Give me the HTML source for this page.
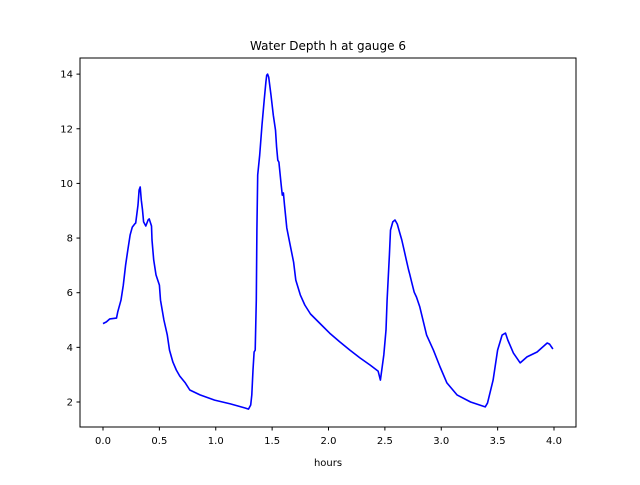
<!DOCTYPE html>
<html><head><meta charset="utf-8"><style>
body{margin:0;background:#fff;font-family:"Liberation Sans","DejaVu Sans",sans-serif}
svg text{font-family:"DejaVu Sans","Liberation Sans",sans-serif;font-size:10px;fill:#000}
</style></head><body>
<svg id="chart" width="640" height="480" viewBox="0 0 640 480">
<rect width="640" height="480" fill="#fff"/>
<text x="328" y="50" text-anchor="middle" style="font-size:12px">Water Depth h at gauge 6</text>
<g id="plot"></g>
<rect x="80" y="58" width="496" height="369" fill="none" stroke="#000" stroke-width="1"/>
<text x="328" y="466" text-anchor="middle">hours</text>
</svg>
<script>
const hours=[0,0.03,0.06,0.12,0.13,0.16,0.18,0.20,0.22,0.24,0.26,0.28,0.29,0.31,0.32,0.33,0.34,0.35,0.36,0.38,0.40,0.41,0.43,0.435,0.45,0.47,0.50,0.51,0.54,0.57,0.59,0.62,0.65,0.68,0.73,0.77,0.86,0.99,1.13,1.26,1.29,1.31,1.32,1.33,1.34,1.35,1.36,1.365,1.372,1.39,1.41,1.43,1.445,1.452,1.46,1.47,1.49,1.51,1.53,1.54,1.55,1.56,1.58,1.59,1.60,1.61,1.63,1.66,1.69,1.71,1.75,1.79,1.84,1.92,2.01,2.10,2.19,2.28,2.37,2.44,2.46,2.49,2.51,2.52,2.54,2.55,2.57,2.59,2.61,2.63,2.65,2.67,2.69,2.71,2.72,2.74,2.76,2.78,2.81,2.87,2.93,2.99,3.05,3.14,3.26,3.39,3.41,3.46,3.50,3.54,3.57,3.59,3.64,3.70,3.76,3.85,3.94,3.96,3.99];
const depth=[4.87,4.93,5.04,5.07,5.29,5.73,6.28,7.01,7.56,8.11,8.40,8.51,8.55,9.21,9.76,9.87,9.39,9.03,8.59,8.44,8.66,8.70,8.44,7.93,7.20,6.65,6.28,5.73,5.00,4.45,3.90,3.46,3.17,2.95,2.70,2.44,2.26,2.07,1.93,1.78,1.74,1.89,2.26,3.17,3.83,3.90,5.73,8.29,10.31,11.04,12.14,13.05,13.71,13.96,14.0,13.89,13.23,12.50,11.95,11.33,10.85,10.78,9.94,9.57,9.65,9.21,8.37,7.74,7.12,6.46,5.92,5.55,5.22,4.89,4.52,4.20,3.90,3.61,3.35,3.13,2.80,3.72,4.63,5.73,7.38,8.29,8.59,8.66,8.51,8.22,7.93,7.56,7.20,6.83,6.68,6.35,6.02,5.84,5.48,4.45,3.90,3.28,2.70,2.26,2.00,1.82,1.96,2.80,3.90,4.45,4.52,4.27,3.79,3.43,3.65,3.83,4.16,4.12,3.94];
const xTicks=[0.0,0.5,1.0,1.5,2.0,2.5,3.0,3.5,4.0];
const yTicks=[2,4,6,8,10,12,14];
const xMin=-0.204,xMax=4.195,yMin=1.085,yMax=14.59;
const L=80,R=576,T=58,B=427;
function xs(v){return L+(v-xMin)/(xMax-xMin)*(R-L);}
function ys(v){return B-(v-yMin)/(yMax-yMin)*(B-T);}
const NS="http://www.w3.org/2000/svg";
const g=document.getElementById('plot');
xTicks.forEach(t=>{
  const x=xs(t);
  const l=document.createElementNS(NS,'line');
  
  
  l.setAttribute('x1',x);l.setAttribute('x2',x);l.setAttribute('y1',B);l.setAttribute('y2',B+3.5);l.setAttribute('stroke','#000');
  g.appendChild(l);
  const tx=document.createElementNS(NS,'text');
  
  
  tx.setAttribute('x',x);tx.setAttribute('y',B+17);tx.setAttribute('text-anchor','middle');
  tx.textContent=t.toFixed(1);g.appendChild(tx);
});
yTicks.forEach(t=>{
  const y=ys(t);
  const l=document.createElementNS(NS,'line');
  
  
  l.setAttribute('x1',L-3.5);l.setAttribute('x2',L);l.setAttribute('y1',y);l.setAttribute('y2',y);l.setAttribute('stroke','#000');
  g.appendChild(l);
  const tx=document.createElementNS(NS,'text');
  
  
  tx.setAttribute('x',L-7);tx.setAttribute('y',y+3.5);tx.setAttribute('text-anchor','end');
  tx.textContent=t;g.appendChild(tx);
});
const p=document.createElementNS(NS,'polyline');


p.setAttribute('points',hours.map((h,i)=>xs(h).toFixed(1)+','+ys(depth[i]).toFixed(1)).join(' '));
p.setAttribute('fill','none');p.setAttribute('stroke','#0000ff');p.setAttribute('stroke-width','1.6');p.setAttribute('stroke-linejoin','round');
g.appendChild(p);
</script>
</body></html>
